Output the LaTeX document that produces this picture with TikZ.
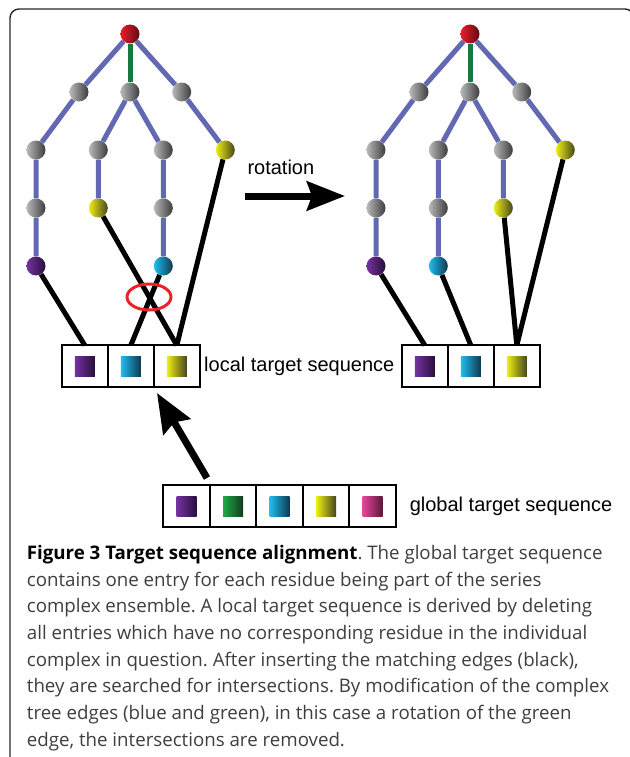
\documentclass[tikz,border=0pt]{standalone}
\usepackage{fontspec}
\newfontfamily\lblfont{Liberation Sans}
\newfontfamily\capfont{Open Sans}
\usetikzlibrary{positioning,arrows.meta}
\frenchspacing
\definecolor{treeblue}{RGB}{98,104,178}
\definecolor{treegreen}{RGB}{22,122,62}
\definecolor{ringred}{RGB}{232,36,40}
\definecolor{capgray}{RGB}{62,62,62}
\definecolor{grayL}{RGB}{185,185,185}
\definecolor{grayR}{RGB}{60,60,60}
\definecolor{redL}{RGB}{235,30,40}
\definecolor{redR}{RGB}{95,10,22}
\definecolor{purL}{RGB}{118,50,160}
\definecolor{purR}{RGB}{40,14,60}
\definecolor{cyaL}{RGB}{30,190,240}
\definecolor{cyaR}{RGB}{16,56,78}
\definecolor{yelL}{RGB}{240,240,20}
\definecolor{yelR}{RGB}{70,70,30}
\definecolor{greL}{RGB}{30,172,70}
\definecolor{greR}{RGB}{16,58,30}
\definecolor{magL}{RGB}{232,70,156}
\definecolor{magR}{RGB}{90,24,56}
\tikzset{
  ball/.style 2 args={circle,inner sep=0pt,minimum size=19pt,left color=#1,right color=#2},
  gball/.style={ball={grayL}{grayR}},
  sq/.style 2 args={inner sep=0pt,minimum size=20pt,left color=#1,right color=#2},
  cell/.style={draw,line width=2pt,minimum width=46pt,minimum height=42pt,inner sep=0pt,outer sep=0pt},
  tedge/.style={treeblue,line width=5pt},
  gedge/.style={treegreen,line width=5pt},
  medge/.style={black,line width=5pt},
  lbl/.style={font=\lblfont\fontsize{20}{24}\selectfont,inner sep=0pt},
  captext/.style={font=\capfont\fontsize{18.7}{22}\selectfont,text=capgray,inner sep=0pt}
}
\begin{document}
\begin{tikzpicture}[x=1pt,y=-1pt]
\useasboundingbox (0,0) rectangle (629,757);
% panel frame
\draw[line width=1.4pt,rounded corners=9pt,black!85] (10,760) -- (10,9) -- (634,9) -- (634,60);

% left tree, before rotation
\node[ball={redL}{redR}] (lr) at (130,34) {};
\node[gball] (la1) at (79,92) {};
\node[gball] (la2) at (130,92) {};
\node[gball] (la3) at (181.7,92) {};
\node[gball] (lb1) at (36,150) {};
\node[gball] (lb2) at (98.3,150) {};
\node[gball] (lb3) at (163.3,150) {};
\node[ball={yelL}{yelR}] (lb4) at (225.3,150) {};
\node[gball] (lc1) at (36,208) {};
\node[ball={yelL}{yelR}] (lc2) at (98.3,208) {};
\node[gball] (lc3) at (163.3,208) {};
\node[ball={purL}{purR}] (ld1) at (36,266) {};
\node[ball={cyaL}{cyaR}] (ld3) at (163.3,266) {};
\draw[tedge] (lr) -- (la1) -- (lb1) -- (lc1) -- (ld1);
\draw[tedge] (lr) -- (la3) -- (lb4);
\draw[tedge] (la2) -- (lb2) -- (lc2);
\draw[tedge] (la2) -- (lb3) -- (lc3) -- (ld3);
\draw[gedge] (lr) -- (la2);

% local target sequence, left
\node[cell] (l1) at (84.8,366.3) {};
\node[cell,right=0pt of l1] (l2) {};
\node[cell,right=0pt of l2] (l3) {};
\node[sq={purL}{purR}] (l1s) at (l1) {};
\node[sq={cyaL}{cyaR}] (l2s) at (l2) {};
\node[sq={yelL}{yelR}] (l3s) at (l3) {};
\draw[medge] (ld1) -- (l1.north);
\draw[medge] (ld3) -- (l2.north);
\draw[medge] (lc2) -- (l3.north);
\draw[medge] (lb4) -- (l3.north);
\draw[ringred,line width=3pt] (149,297) ellipse [x radius=22,y radius=13];
\node[lbl,anchor=base west] (loctext) at (204,371.5) {local target sequence};

% right tree, after rotation
\begin{scope}[xshift=340pt]
\node[ball={redL}{redR}] (rr) at (130,34) {};
\node[gball] (ra1) at (79,92) {};
\node[gball] (ra2) at (130,92) {};
\node[gball] (ra3) at (181.7,92) {};
\node[gball] (rb1) at (36,150) {};
\node[gball] (rb2) at (98.3,150) {};
\node[gball] (rb3) at (163.3,150) {};
\node[ball={yelL}{yelR}] (rb4) at (225.3,150) {};
\node[gball] (rc1) at (36,208) {};
\node[gball] (rc2) at (98.3,208) {};
\node[ball={yelL}{yelR}] (rc3) at (163.3,208) {};
\node[ball={purL}{purR}] (rd1) at (36,266) {};
\node[ball={cyaL}{cyaR}] (rd2) at (98.3,266) {};
\node[cell] (r1) at (84.8,366.3) {};
\end{scope}
\draw[tedge] (rr) -- (ra1) -- (rb1) -- (rc1) -- (rd1);
\draw[tedge] (rr) -- (ra3) -- (rb4);
\draw[tedge] (ra2) -- (rb2) -- (rc2) -- (rd2);
\draw[tedge] (ra2) -- (rb3) -- (rc3);
\draw[gedge] (rr) -- (ra2);
\node[cell,right=0pt of r1] (r2) {};
\node[cell,right=0pt of r2] (r3) {};
\node[sq={purL}{purR}] (r1s) at (r1) {};
\node[sq={cyaL}{cyaR}] (r2s) at (r2) {};
\node[sq={yelL}{yelR}] (r3s) at (r3) {};
\draw[medge] (rd1) -- (r1.north);
\draw[medge] (rd2) -- (r2.north);
\draw[medge] (rc3) -- (r3.north);
\draw[medge] (rb4) -- (r3.north);

% rotation arrow
\node[lbl,anchor=base west] (rottext) at (247.3,174) {rotation};
\coordinate (rotA) at (245,196);
\coordinate (rotB) at (345,196);
\draw[line width=7pt,-{Stealth[length=38pt,width=29pt,inset=5pt]}] (rotA) -- (rotB);

% global target sequence
\node[cell,minimum width=46.5pt] (g1) at (186.5,506) {};
\node[cell,minimum width=46.5pt,right=0pt of g1] (g2) {};
\node[cell,minimum width=46.5pt,right=0pt of g2] (g3) {};
\node[cell,minimum width=46.5pt,right=0pt of g3] (g4) {};
\node[cell,minimum width=46.5pt,right=0pt of g4] (g5) {};
\node[sq={purL}{purR}] (g1s) at (g1) {};
\node[sq={greL}{greR}] (g2s) at (g2) {};
\node[sq={cyaL}{cyaR}] (g3s) at (g3) {};
\node[sq={yelL}{yelR}] (g4s) at (g4) {};
\node[sq={magL}{magR}] (g5s) at (g5) {};
\node[lbl,anchor=base west] (glotext) at (409.6,511) {global target sequence};
\coordinate (derA) at (207,478);
\coordinate (derB) at (157,393);
\draw[line width=7pt,-{Stealth[length=39pt,width=31pt,inset=5pt]}] (derA) -- (derB);

% caption
\foreach \capline [count=\i from 0] in {
  {{\bfseries\color{black}Figure 3 Target sequence alignment}. The global target sequence},
  {contains one entry for each residue being part of the series},
  {complex ensemble. A local target sequence is derived by deleting},
  {all entries which have no corresponding residue in the individual},
  {complex in question. After inserting the matching edges (black),},
  {they are searched for intersections. By modification of the complex},
  {tree edges (blue and green), in this case a rotation of the green},
  {edge, the intersections are removed.}}
  \node[captext,anchor=base west] (cap\i) at (26.7,559.3+26.7*\i) {\capline};
\end{tikzpicture}
\end{document}
